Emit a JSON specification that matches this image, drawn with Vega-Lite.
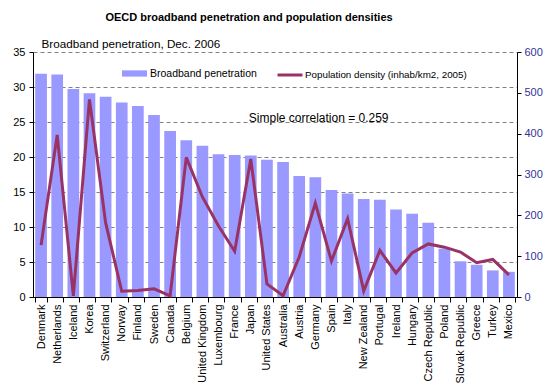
{
  "$schema": "https://vega.github.io/schema/vega-lite/v6.json",
  "autosize": "none",
  "width": 484,
  "height": 245,
  "padding": {"left": 33, "top": 52, "right": 33, "bottom": 91},
  "background": "white",
  "title": {
    "text": "OECD broadband penetration and population densities",
    "font": "Liberation Sans",
    "fontSize": 11,
    "fontWeight": "bold",
    "color": "black",
    "anchor": "middle",
    "frame": "group",
    "dx": -26,
    "offset": 15
  },
  "config": {
    "view": {"stroke": null},
    "font": "Liberation Sans"
  },
  "data": {
    "values": [
      {"country": "Denmark", "broadband": 31.9, "density": 127},
      {"country": "Netherlands", "broadband": 31.8, "density": 397},
      {"country": "Iceland", "broadband": 29.7, "density": 3},
      {"country": "Korea", "broadband": 29.1, "density": 484},
      {"country": "Switzerland", "broadband": 28.6, "density": 182},
      {"country": "Norway", "broadband": 27.8, "density": 14},
      {"country": "Finland", "broadband": 27.3, "density": 16},
      {"country": "Sweden", "broadband": 26.0, "density": 20},
      {"country": "Canada", "broadband": 23.7, "density": 3},
      {"country": "Belgium", "broadband": 22.4, "density": 342},
      {"country": "United Kingdom", "broadband": 21.6, "density": 245},
      {"country": "Luxembourg", "broadband": 20.4, "density": 174},
      {"country": "France", "broadband": 20.3, "density": 112},
      {"country": "Japan", "broadband": 20.2, "density": 338},
      {"country": "United States", "broadband": 19.6, "density": 32},
      {"country": "Australia", "broadband": 19.3, "density": 3},
      {"country": "Austria", "broadband": 17.3, "density": 98},
      {"country": "Germany", "broadband": 17.1, "density": 230},
      {"country": "Spain", "broadband": 15.3, "density": 88},
      {"country": "Italy", "broadband": 14.8, "density": 192},
      {"country": "New Zealand", "broadband": 14.0, "density": 15},
      {"country": "Portugal", "broadband": 13.9, "density": 114},
      {"country": "Ireland", "broadband": 12.5, "density": 59},
      {"country": "Hungary", "broadband": 11.9, "density": 108},
      {"country": "Czech Republic", "broadband": 10.6, "density": 130},
      {"country": "Poland", "broadband": 6.9, "density": 122},
      {"country": "Slovak Republic", "broadband": 5.1, "density": 110},
      {"country": "Greece", "broadband": 4.6, "density": 84},
      {"country": "Turkey", "broadband": 3.8, "density": 92},
      {"country": "Mexico", "broadband": 3.6, "density": 54}
    ]
  },
  "encoding": {
    "x": {
      "field": "country",
      "type": "nominal",
      "sort": null,
      "scale": {"paddingInner": 0.275, "paddingOuter": 0.1375},
      "axis": {
        "title": null,
        "labelAngle": -90,
        "labelFontSize": 11,
        "labelFont": "Liberation Sans",
        "labelColor": "black",
        "domainColor": "black",
        "tickColor": "black",
        "tickSize": 5,
        "tickBand": "extent",
        "labelPadding": 2
      }
    }
  },
  "layer": [
    {
      "mark": {"type": "bar", "color": "#9999FF"},
      "encoding": {
        "y": {
          "field": "broadband",
          "type": "quantitative",
          "scale": {"domain": [0, 35]},
          "axis": {
            "orient": "left",
            "values": [0, 5, 10, 15, 20, 25, 30, 35],
            "labelOverlap": false,
            "labelFontSize": 11,
            "labelFont": "Liberation Sans",
            "labelColor": "black",
            "domainColor": "black",
            "tickColor": "black",
            "tickSize": 4,
            "labelPadding": 4,
            "grid": true,
            "gridColor": "#808080",
            "gridDash": [4, 3],
            "title": "Broadband penetration, Dec. 2006",
            "titleAngle": 0,
            "titleX": 8,
            "titleY": -5,
            "titleAlign": "left",
            "titleBaseline": "alphabetic",
            "titleFont": "Liberation Sans",
            "titleFontSize": 11.7,
            "titleFontWeight": "normal",
            "titleColor": "black"
          }
        },
        "fill": {
          "datum": "Broadband penetration",
          "scale": {"range": ["#9999FF"]},
          "legend": {
            "orient": "none",
            "legendX": 89,
            "legendY": 9,
            "direction": "horizontal",
            "title": null,
            "padding": 0,
            "symbolType": "M-1,-0.25H1V0.25H-1Z",
            "symbolSize": 625,
            "symbolStrokeWidth": 0,
            "labelFont": "Liberation Sans",
            "labelFontSize": 10.5,
            "labelColor": "black",
            "labelOffset": 3,
            "labelLimit": 300
          }
        }
      }
    },
    {
      "mark": {"type": "line", "strokeWidth": 3},
      "encoding": {
        "y": {
          "field": "density",
          "type": "quantitative",
          "scale": {"domain": [0, 600]},
          "axis": {
            "orient": "right",
            "values": [0, 100, 200, 300, 400, 500, 600],
            "labelOverlap": false,
            "labelFontSize": 11,
            "labelFont": "Liberation Sans",
            "labelColor": "#333399",
            "domainColor": "black",
            "tickColor": "black",
            "tickSize": 4,
            "labelPadding": 3,
            "grid": false,
            "title": null
          }
        },
        "stroke": {
          "datum": "Population density (inhab/km2, 2005)",
          "scale": {"range": ["#993366"]},
          "legend": {
            "orient": "none",
            "legendX": 243,
            "legendY": 9,
            "direction": "horizontal",
            "title": null,
            "padding": 0,
            "symbolType": "stroke",
            "symbolSize": 625,
            "symbolStrokeWidth": 3,
            "labelFont": "Liberation Sans",
            "labelFontSize": 9.8,
            "labelColor": "black",
            "labelOffset": 1,
            "labelLimit": 300
          }
        }
      }
    },
    {
      "transform": [{"filter": "datum.country === 'Japan'"}],
      "mark": {"type": "text", "align": "left", "baseline": "alphabetic", "fontSize": 12, "font": "Liberation Sans", "color": "black", "dx": -2},
      "encoding": {
        "y": {"datum": 25, "type": "quantitative", "scale": {"domain": [0, 35]}, "axis": null},
        "text": {"value": "Simple correlation = 0.259"}
      }
    }
  ],
  "resolve": {"scale": {"y": "independent"}}
}
